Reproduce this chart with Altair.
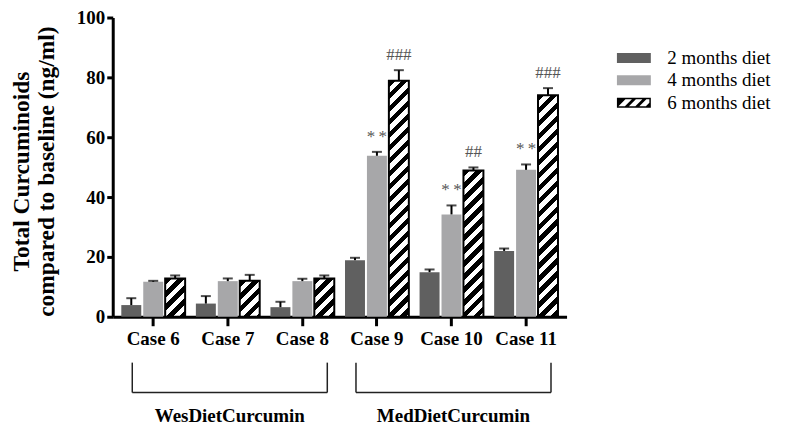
import math
import altair as alt
import pandas as pd

# ---------------- data ----------------
cases = ["Case 6", "Case 7", "Case 8", "Case 9", "Case 10", "Case 11"]
diets = ["2 months diet", "4 months diet", "6 months diet"]

m2 = [3.9, 4.4, 3.2, 18.9, 14.9, 22.0]
m2_err = [2.3, 2.5, 1.8, 0.8, 0.9, 0.8]
m4 = [11.7, 11.9, 11.9, 53.8, 34.2, 49.1]
m4_err = [0.3, 0.9, 0.8, 1.3, 3.0, 1.8]
m6 = [12.8, 12.0, 12.8, 78.9, 48.9, 74.0]
m6_err = [1.0, 2.0, 1.0, 3.5, 1.0, 2.4]

ann_cases = ["Case 9", "Case 9", "Case 10", "Case 10", "Case 11", "Case 11"]
ann_diets = ["4 months diet", "6 months diet"] * 3
ann_text = ["*\u2009*", "###", "*\u2009*", "##", "*\u2009*", "###"]

groups = ["WesDietCurcumin", "MedDietCurcumin"]
group_first = ["Case 6", "Case 9"]
group_mid = ["Case 7", "Case 10"]
group_last = ["Case 8", "Case 11"]

y_ticks = [0, 20, 40, 60, 80, 100]
y_title = ["Total Curcuminoids", "compared to baseline (ng/ml)"]
colors = ["#606060", "#a7a7a9", "#000000"]

rows = []
for i, c in enumerate(cases):
    for d, vals, errs in zip(diets, [m2, m4, m6], [m2_err, m4_err, m6_err]):
        rows.append({"case": c, "diet": d, "value": vals[i],
                     "upper": round(vals[i] + errs[i], 3)})
df = pd.DataFrame(rows)

ann = pd.DataFrame({"case": ann_cases, "diet": ann_diets, "text": ann_text})
ann = ann.merge(df, on=["case", "diet"], how="left")

grp = pd.DataFrame({"group": groups, "first": group_first,
                    "mid": group_mid, "last": group_last})

# ---------------- style ----------------
FONT = "Liberation Serif"
W, H = 455, 300
PI_X, PO_X, PI_O = 0.144, 0.115, 0.09

x_scale = alt.Scale(domain=cases, paddingInner=PI_X, paddingOuter=PO_X)
xo_scale = alt.Scale(domain=diets, paddingInner=PI_O, paddingOuter=0)
y_scale = alt.Scale(domain=[0, 100], nice=False)

x_axis = alt.Axis(title=None, labelAngle=0, labelFont=FONT, labelFontSize=19,
                  labelFontWeight="bold", labelColor="black", labelPadding=4,
                  tickSize=9, tickWidth=3, tickColor="black", domainWidth=3,
                  domainColor="black", grid=False)
y_axis = alt.Axis(title=y_title, values=y_ticks, labelFont=FONT, labelFontSize=19,
                  labelFontWeight="bold", labelColor="black", labelPadding=2,
                  tickSize=6, tickWidth=3, tickColor="black", domainWidth=3,
                  domainColor="black", grid=False, titleFont=FONT, titleFontSize=23.5,
                  titleFontWeight="bold", titleColor="black", titleLineHeight=25,
                  titleAngle=270, titleBaseline="alphabetic", titleAlign="center",
                  titleX=-84, titleY=154)

X = alt.X("case:N", scale=x_scale, axis=x_axis, sort=cases)
XO = alt.XOffset("diet:N", scale=xo_scale, sort=diets)

# geometry of a hatched bar (for stripe gradient)
step_x = W / (len(cases) - PI_X + 2 * PO_X)
bw = step_x * (1 - PI_X)
step_o = bw / (len(diets) - PI_O)
bar_w = step_o * (1 - PI_O)
PERIOD = 13.0


def stripe_gradient(value):
    h = max(value * H / 100.0, 1.0)
    denom = bar_w ** 2 + h ** 2
    half = PERIOD / 2
    n = int(math.ceil((bar_w + h) / half))
    col = lambda k: "#000000" if k % 2 == 0 else "#ffffff"
    stops = [{"offset": 0, "color": col(0)}]
    for k in range(1, n + 1):
        t = min(k * half * bar_w / denom, 1.0)
        stops.append({"offset": t, "color": col(k - 1)})
        stops.append({"offset": t, "color": col(k)})
    stops.append({"offset": 1, "color": col(n)})
    return {"gradient": "linear", "x1": 0, "y1": 0, "x2": 1, "y2": h / bar_w,
            "stops": stops}


layers = []

# solid bars (colour by condition, so no second legend is created)
layers.append(
    alt.Chart(df).transform_filter(alt.datum.diet != diets[2]).mark_bar().encode(
        x=X, xOffset=XO,
        y=alt.Y("value:Q", scale=y_scale, axis=y_axis),
        color=alt.condition(alt.datum.diet == diets[0], alt.value(colors[0]),
                            alt.value(colors[1])),
    )
)

# hatched bars
for i, c in enumerate(cases):
    layers.append(
        alt.Chart(df)
        .transform_filter((alt.datum.case == c) & (alt.datum.diet == diets[2]))
        .mark_bar(fill=stripe_gradient(m6[i]), stroke="black", strokeWidth=2)
        .encode(x=X, xOffset=XO, y=alt.Y("value:Q", scale=y_scale, axis=y_axis))
    )

# error bars
layers.append(
    alt.Chart(df).mark_rule(color="black", strokeWidth=2).encode(
        x=X, xOffset=XO,
        y=alt.Y("value:Q", scale=y_scale, axis=y_axis), y2="upper:Q")
)
layers.append(
    alt.Chart(df).mark_tick(color="black", thickness=2, size=10).encode(
        x=X, xOffset=XO, y=alt.Y("upper:Q", scale=y_scale, axis=y_axis))
)

# significance annotations
layers.append(
    alt.Chart(ann).mark_text(font=FONT, fontSize=17, color="#555555",
                             baseline="alphabetic", dy=-10).encode(
        x=X, xOffset=XO, y=alt.Y("upper:Q", scale=y_scale, axis=y_axis),
        text="text:N")
)

# group brackets
BR = dict(color="#222222", strokeWidth=1.5)
layers.append(
    alt.Chart(grp).mark_rule(xOffset=-21, x2Offset=25, **BR).encode(
        x=alt.X("first:N", scale=x_scale, axis=x_axis),
        x2="last:N", y=alt.value(376))
)
layers.append(
    alt.Chart(grp).mark_rule(xOffset=-21, **BR).encode(
        x=alt.X("first:N", scale=x_scale, axis=x_axis),
        y=alt.value(346), y2=alt.value(376))
)
layers.append(
    alt.Chart(grp).mark_rule(xOffset=25, **BR).encode(
        x=alt.X("last:N", scale=x_scale, axis=x_axis),
        y=alt.value(346), y2=alt.value(376))
)
layers.append(
    alt.Chart(grp).mark_text(font=FONT, fontSize=19, fontWeight="bold", color="black",
                             baseline="alphabetic", xOffset=2).encode(
        x=alt.X("mid:N", scale=x_scale, axis=x_axis),
        y=alt.value(406), text="group:N")
)

# legend (invisible points carrying fill + shape)
rect_path = "M-3.4,-1H3.4V1H-3.4Z"
hatch_path = (rect_path +
              "M-3.1,0.7L-1.8,0.7L-0.4,-0.7L-1.7,-0.7Z"
              "M-1.0,0.7L0.3,0.7L1.7,-0.7L0.4,-0.7Z"
              "M1.1,0.7L2.4,0.7L3.1,0.0L3.1,-0.7L2.5,-0.7Z")
leg = alt.Legend(title=None, orient="none", legendX=513, legendY=31, padding=0,
                 symbolSize=100, symbolStrokeWidth=0, symbolOpacity=1,
                 labelFont=FONT, labelFontSize=19, labelColor="black",
                 labelOffset=24, rowPadding=2.5)
layers.append(
    alt.Chart(df).mark_point(filled=True, opacity=0).encode(
        x=X, xOffset=XO, y=alt.Y("value:Q", scale=y_scale, axis=y_axis),
        fill=alt.Fill("diet:N", scale=alt.Scale(domain=diets, range=colors), legend=leg),
        shape=alt.Shape("diet:N", scale=alt.Scale(domain=diets,
                        range=[rect_path, rect_path, hatch_path]), legend=leg),
    )
)

chart = alt.layer(*layers).properties(
    width=W, height=H,
    autosize=alt.AutoSizeParams(type="none"),
    padding={"left": 105, "top": 9, "right": 215, "bottom": 112},
    background="white",
).configure_view(stroke=None)

chart.save("out.html", embed_options={"renderer": "svg", "actions": False})
